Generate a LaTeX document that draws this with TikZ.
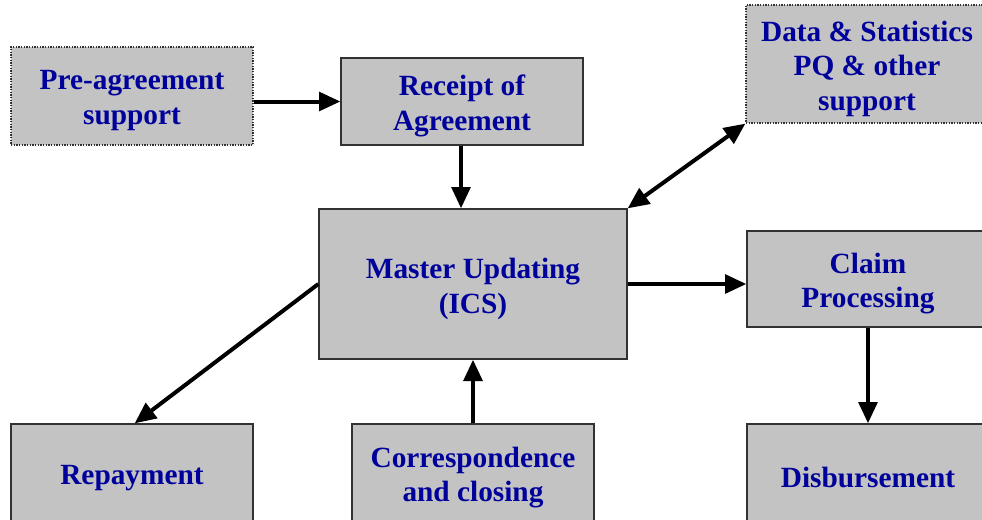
\documentclass[tikz,border=0pt]{standalone}
\usepackage{fontspec}
\setmainfont{Liberation Serif}
\usetikzlibrary{arrows.meta}
\definecolor{boxgray}{RGB}{195,195,195}
\definecolor{txtblue}{RGB}{0,0,155}
\definecolor{edgegray}{RGB}{50,50,50}
\tikzset{
  box/.style={draw=edgegray, line width=1pt, fill=boxgray, inner sep=0pt},
  dotbox/.style={box, densely dotted, line width=0.9pt},
  lbl/.style={align=center, inner sep=0pt, text=txtblue, yshift=-3.5pt,
    font=\fontsize{22}{26}\selectfont\bfseries},
  conn/.style={line width=3pt, -{Triangle[length=16pt,width=14pt]}},
  bconn/.style={line width=3pt, {Triangle[length=16pt,width=14pt]}-{Triangle[length=16pt,width=14pt]}},
}
\begin{document}
\begin{tikzpicture}[x=0.75pt,y=-0.75pt]
\useasboundingbox (0,0) rectangle (982,519);
\clip (0,0) rectangle (982,519);
\node[dotbox, minimum width=181.5pt, minimum height=73.5pt, label={[lbl]center:Pre-agreement\\support}] (pre) at (132,96) {};
\node[box, minimum width=181.5pt, minimum height=65.25pt, label={[lbl]center:Receipt of\\Agreement}] (rec) at (462,101.5) {};
\node[dotbox, minimum width=181.5pt, minimum height=88.5pt, label={[lbl]center:Data \& Statistics\\PQ \& other\\support}] (data) at (867,64) {};
\node[box, minimum width=231pt, minimum height=112.5pt, label={[lbl]center:Master Updating\\(ICS)}] (mas) at (473,284) {};
\node[box, minimum width=181.5pt, minimum height=72pt, label={[lbl]center:Claim\\Processing}] (claim) at (868,279) {};
\node[box, minimum width=181.5pt, minimum height=73.5pt, label={[lbl]center:Repayment}] (rep) at (132,473) {};
\node[box, minimum width=181.5pt, minimum height=73.5pt, label={[lbl]center:Correspondence\\and closing}] (cor) at (473,473) {};
\node[box, minimum width=181.5pt, minimum height=73.5pt, label={[lbl]center:Disbursement}] (dis) at (868,473) {};
\draw[conn] (pre.east |- rec) -- (rec.west);
\draw[conn] ([xshift=-0.75pt]rec.south) -- ([xshift=-0.75pt]rec.south |- mas.north);
\draw[bconn] (mas.north east) -- (data.south west);
\draw[conn] (mas.east) -- (mas.east -| claim.west);
\draw[conn] (claim.south) -- (dis.north);
\draw[conn] (mas.west) -- ([xshift=2pt]rep.north);
\draw[conn] (cor.north) -- (mas.south);
\end{tikzpicture}
\end{document}
